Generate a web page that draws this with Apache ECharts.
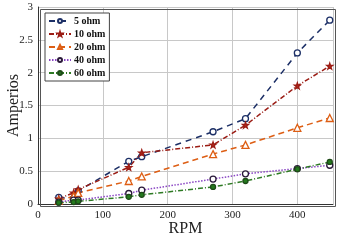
<!DOCTYPE html>
<html>
<head>
<meta charset="utf-8">
<script src="https://cdn.jsdelivr.net/npm/echarts@6/dist/echarts.min.js"></script>
<style>
html, body { margin: 0; padding: 0; background: #fff; }
#main { width: 340px; height: 240px; }
</style>
</head>
<body>
<div id="main"></div>
<script>
var rpm = [32, 55, 62, 140, 160, 270, 320, 400, 450];
var ohm5 = [0.10, 0.08, 0.20, 0.65, 0.72, 1.10, 1.30, 2.30, 2.80];
var ohm10 = [0.08, 0.17, 0.22, 0.56, 0.78, 0.90, 1.20, 1.80, 2.10];
var ohm20 = [0.05, 0.12, 0.17, 0.35, 0.42, 0.76, 0.90, 1.16, 1.31];
var ohm40 = [0.03, 0.06, 0.06, 0.16, 0.21, 0.38, 0.46, 0.54, 0.59];
var ohm60 = [0.02, 0.03, 0.04, 0.11, 0.14, 0.26, 0.35, 0.53, 0.64];
var names = ['5 ohm', '10 ohm', '20 ohm', '40 ohm', '60 ohm'];

var pairs = function(ys){
	var out = [];
	for (var i = 0; i < rpm.length; i++) out.push([rpm[i], ys[i]]);
	return out;
};

var font = '"Liberation Serif", "DejaVu Serif", serif';

var mk = function(name, ys, color, dash, symbol, size, fill, border){
	return {
		name: name,
		type: 'line',
		data: pairs(ys),
		symbol: symbol,
		symbolSize: size,
		itemStyle: { color: fill, borderColor: border, borderWidth: 1.3 },
		lineStyle: { color: color, width: 1.5, type: dash },
		z: 3
	};
};

var chart = echarts.init(document.getElementById('main'));
chart.setOption({
	backgroundColor: '#fff',
	animation: false,
	grid: { left: 38, right: 7, top: 7, bottom: 36, outerBoundsMode: 'none', containLabel: false },
	legend: {
		left: 45, top: 13,
		orient: 'vertical',
		itemGap: 3,
		itemWidth: 22, itemHeight: 5,
		padding: [3, 4, 3, 3],
		borderColor: '#444', borderWidth: 1,
		backgroundColor: '#fff',
		textStyle: { fontFamily: font, fontSize: 10, fontWeight: 'bold', color: '#111', padding: [0, 0, 0, -2] },
		data: names
	},
	xAxis: {
		type: 'value', min: 0, max: 455, interval: 100,
		name: 'RPM', nameLocation: 'middle', nameGap: 17, nameMoveOverlap: false,
		nameTextStyle: { fontFamily: font, fontSize: 16, color: '#222' },
		axisLine: { lineStyle: { color: '#333' } },
		axisTick: { show: false },
		axisLabel: { fontFamily: font, fontSize: 11, color: '#222', margin: 6,
			showMaxLabel: false },
		splitLine: { show: true, lineStyle: { color: '#c8c8c8' } }
	},
	yAxis: {
		type: 'value', min: 0, max: 3, interval: 0.5,
		name: 'Amperios', nameLocation: 'middle', nameGap: 16, nameMoveOverlap: false,
		nameTextStyle: { fontFamily: font, fontSize: 16, color: '#222' },
		axisLine: { show: true, lineStyle: { color: '#333' } },
		axisTick: { show: false },
		axisLabel: { fontFamily: font, fontSize: 11, color: '#222', margin: 5 },
		splitLine: { show: true, lineStyle: { color: '#c8c8c8' } }
	},
	series: [
		mk('5 ohm', ohm5, '#1c2f66', [6, 5], 'circle', 6, '#fff', '#1c2f66'),
		mk('10 ohm', ohm10, '#9b1c14', [5, 2, 1, 2], 'path://M0,-10L2.4,-3.2L9.5,-3.1L3.8,1.2L5.9,8.1L0,4L-5.9,8.1L-3.8,1.2L-9.5,-3.1L-2.4,-3.2Z', 6, '#b82a1c', '#9b1c14'),
		mk('20 ohm', ohm20, '#dd5e14', [6, 4], 'triangle', 7, '#fff', '#dd5e14'),
		mk('40 ohm', ohm40, '#8a46c4', [1.5, 1.5], 'circle', 6, '#fff', '#2a1a3a'),
		mk('60 ohm', ohm60, '#2e7a24', [5, 2, 1, 2], 'circle', 5, '#247a1e', '#1e4a18')
	],
	graphic: [{
		type: 'rect', left: 38, top: 7, shape: { width: 295, height: 197 },
		style: { fill: 'none', stroke: '#555', lineWidth: 1 }, silent: true, z: 10
	}]
});
</script>
</body>
</html>
